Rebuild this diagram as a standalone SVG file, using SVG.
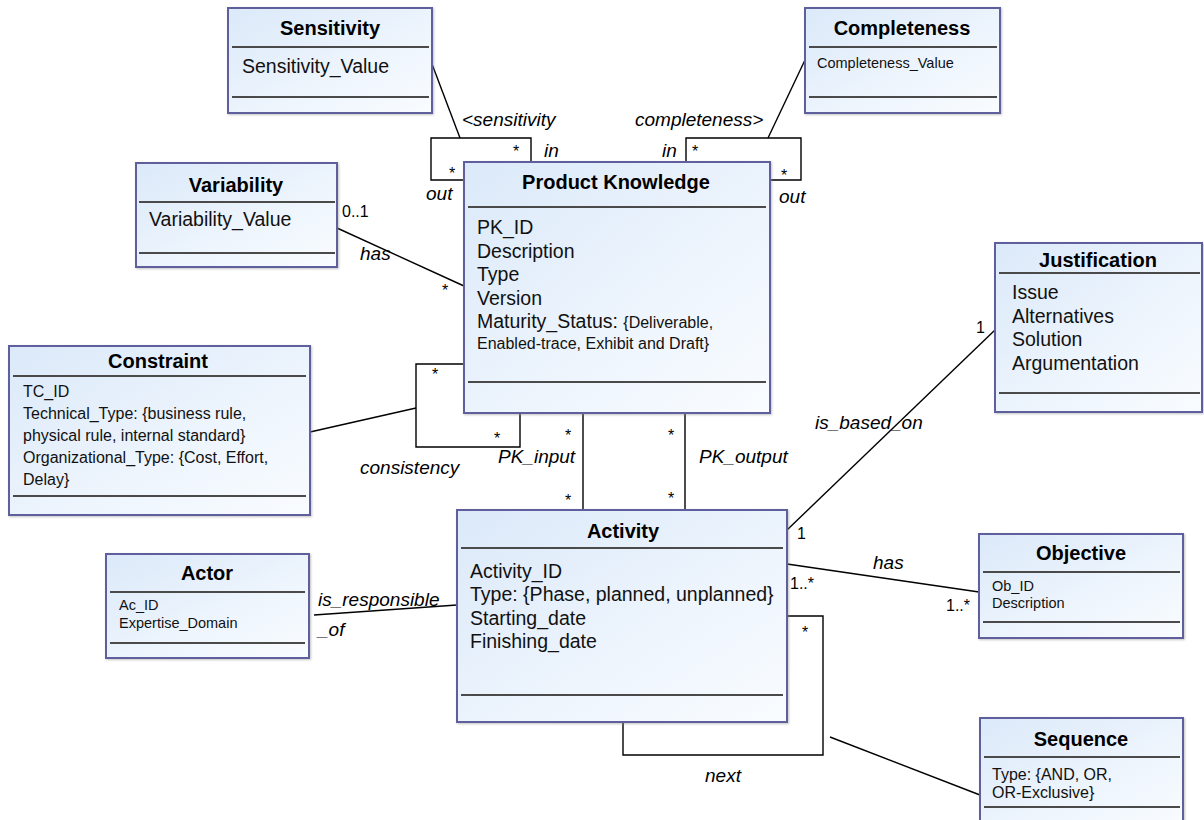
<svg xmlns="http://www.w3.org/2000/svg" width="1204" height="820" viewBox="0 0 1204 820">
  <style>
    .box { fill: url(#boxFill); stroke: #5f5f9e; stroke-width: 2; filter: url(#shadow); }
    .sep { stroke: #4a4a4a; stroke-width: 2.2; }
    .title { font-family: "Liberation Sans", Arial, sans-serif; font-weight: bold; font-size: 20px; fill: #000; text-anchor: middle; }
    .attr { font-family: "Liberation Sans", Arial, sans-serif; font-size: 19.5px; fill: #111; }
    .attr-s { font-family: "Liberation Sans", Arial, sans-serif; font-size: 14.5px; fill: #111; }
    .attr-m { font-family: "Liberation Sans", Arial, sans-serif; font-size: 16px; fill: #111; }
    .conn { fill: none; stroke: #000; stroke-width: 1.4; }
    .lbl { font-family: "Liberation Sans", Arial, sans-serif; font-style: italic; font-size: 19px; fill: #000; }
    .mult { font-family: "Liberation Sans", Arial, sans-serif; font-size: 16px; fill: #000; }
  </style>
  <defs>
    <linearGradient id="boxFill" x1="0" y1="0" x2="1" y2="1">
      <stop offset="0" stop-color="#dbe9f9"/>
      <stop offset="0.6" stop-color="#eef5fd"/>
      <stop offset="1" stop-color="#f9fcff"/>
    </linearGradient>
    <filter id="shadow" x="-5%" y="-5%" width="110%" height="110%">
      <feDropShadow dx="1" dy="1" stdDeviation="1" flood-color="#888" flood-opacity="0.5"/>
    </filter>
  </defs>
  <rect width="1204" height="820" fill="#fff"/>

  <!-- associations -->
  <g id="connectors">
    <!-- sensitivity self-association -->
    <polyline class="conn" points="464,180 431,180 431,138 531,138 531,162"/>
    <line class="conn" x1="432" y1="64" x2="460" y2="138"/>
    <!-- completeness self-association -->
    <polyline class="conn" points="686,162 686,138 801,138 801,180 768,180"/>
    <line class="conn" x1="805" y1="60" x2="768" y2="138"/>
    <!-- variability -->
    <line class="conn" x1="337" y1="228" x2="464" y2="286"/>
    <!-- consistency self-association -->
    <polyline class="conn" points="464,364 416,364 416,447 520,447 520,413"/>
    <line class="conn" x1="310" y1="432" x2="416" y2="408"/>
    <!-- PK input / output -->
    <line class="conn" x1="583" y1="413" x2="583" y2="510"/>
    <line class="conn" x1="685" y1="413" x2="685" y2="510"/>
    <!-- justification -->
    <line class="conn" x1="787" y1="530" x2="995" y2="330"/>
    <!-- objective -->
    <line class="conn" x1="787" y1="564" x2="979" y2="592"/>
    <!-- actor -->
    <line class="conn" x1="314" y1="615" x2="457" y2="605"/>
    <!-- next self-association -->
    <polyline class="conn" points="787,616 823,616 823,755 623,755 623,722"/>
    <line class="conn" x1="830" y1="737" x2="980" y2="795"/>

    <!-- labels and multiplicities -->
    <text class="lbl" x="462" y="126">&lt;sensitivity</text>
    <text class="mult" x="513" y="157">*</text>
    <text class="lbl" x="544" y="157">in</text>
    <text class="mult" x="449" y="179">*</text>
    <text class="lbl" x="426" y="200">out</text>

    <text class="lbl" x="635" y="126">completeness&gt;</text>
    <text class="lbl" x="662" y="157">in</text>
    <text class="mult" x="692" y="157">*</text>
    <text class="mult" x="781" y="181">*</text>
    <text class="lbl" x="779" y="203">out</text>

    <text class="mult" x="342" y="217">0..1</text>
    <text class="lbl" x="360" y="260">has</text>
    <text class="mult" x="442" y="296">*</text>

    <text class="mult" x="432" y="380">*</text>
    <text class="mult" x="494" y="444">*</text>
    <text class="lbl" x="360" y="474">consistency</text>

    <text class="mult" x="565" y="441">*</text>
    <text class="mult" x="565" y="506">*</text>
    <text class="lbl" x="498" y="463">PK_input</text>
    <text class="mult" x="668" y="441">*</text>
    <text class="mult" x="668" y="504">*</text>
    <text class="lbl" x="699" y="463">PK_output</text>

    <text class="lbl" x="815" y="429">is_based_on</text>
    <text class="mult" x="976" y="333">1</text>
    <text class="mult" x="797" y="539">1</text>

    <text class="lbl" x="873" y="569">has</text>
    <text class="mult" x="790" y="589">1..*</text>
    <text class="mult" x="946" y="611">1..*</text>

    <text class="lbl" x="318" y="606">is_responsible</text>
    <text class="lbl" x="318" y="636">_of</text>

    <text class="mult" x="802" y="638">*</text>
    <text class="mult" x="586" y="723">*</text>
    <text class="lbl" x="705" y="782">next</text>
  </g>

  <g id="sensitivity">
    <rect class="box" x="228" y="8" width="204" height="105"/>
    <text class="title" x="330" y="35">Sensitivity</text>
    <line class="sep" x1="232" y1="47" x2="429" y2="47"/>
    <text class="attr" x="242" y="73">Sensitivity_Value</text>
    <line class="sep" x1="232" y1="97" x2="429" y2="97"/>
  </g>

  <g id="completeness">
    <rect class="box" x="805" y="8" width="195" height="105"/>
    <text class="title" x="902" y="35">Completeness</text>
    <line class="sep" x1="809" y1="47" x2="997" y2="47"/>
    <text class="attr-s" x="817" y="68">Completeness_Value</text>
    <line class="sep" x1="809" y1="97" x2="997" y2="97"/>
  </g>

  <g id="variability">
    <rect class="box" x="136" y="163" width="201" height="104"/>
    <text class="title" x="236" y="192">Variability</text>
    <line class="sep" x1="139" y1="202" x2="335" y2="202"/>
    <text class="attr" x="149" y="226">Variability_Value</text>
    <line class="sep" x1="139" y1="253" x2="335" y2="253"/>
  </g>

  <g id="product-knowledge">
    <rect class="box" x="464" y="162" width="306" height="251"/>
    <text class="title" x="616" y="189">Product Knowledge</text>
    <line class="sep" x1="468" y1="207" x2="766" y2="207"/>
    <text class="attr" x="477" y="234">PK_ID</text>
    <text class="attr" x="477" y="258">Description</text>
    <text class="attr" x="477" y="281">Type</text>
    <text class="attr" x="477" y="305">Version</text>
    <text class="attr" x="477" y="328">Maturity_Status: <tspan style="font-size:16px">{Deliverable,</tspan></text>
    <text class="attr-m" x="477" y="349">Enabled-trace, Exhibit and Draft}</text>
    <line class="sep" x1="468" y1="382" x2="766" y2="382"/>
  </g>

  <g id="constraint">
    <rect class="box" x="9" y="346" width="301" height="169"/>
    <text class="title" x="158" y="368">Constraint</text>
    <line class="sep" x1="13" y1="376" x2="306" y2="376"/>
    <text class="attr-m" x="23" y="397">TC_ID</text>
    <text class="attr-m" x="23" y="419">Technical_Type: {business rule,</text>
    <text class="attr-m" x="23" y="441">physical rule, internal standard}</text>
    <text class="attr-m" x="23" y="463">Organizational_Type: {Cost, Effort,</text>
    <text class="attr-m" x="23" y="485">Delay}</text>
    <line class="sep" x1="13" y1="496" x2="306" y2="496"/>
  </g>

  <g id="justification">
    <rect class="box" x="995" y="243" width="207" height="169"/>
    <text class="title" x="1098" y="267">Justification</text>
    <line class="sep" x1="999" y1="273" x2="1200" y2="273"/>
    <text class="attr" x="1012" y="299">Issue</text>
    <text class="attr" x="1012" y="323">Alternatives</text>
    <text class="attr" x="1012" y="346">Solution</text>
    <text class="attr" x="1012" y="370">Argumentation</text>
    <line class="sep" x1="999" y1="393" x2="1200" y2="393"/>
  </g>

  <g id="activity">
    <rect class="box" x="457" y="510" width="330" height="212"/>
    <text class="title" x="623" y="538">Activity</text>
    <line class="sep" x1="461" y1="548" x2="783" y2="548"/>
    <text class="attr" x="470" y="578">Activity_ID</text>
    <text class="attr" x="470" y="601">Type: {Phase, planned, unplanned}</text>
    <text class="attr" x="470" y="625">Starting_date</text>
    <text class="attr" x="470" y="648">Finishing_date</text>
    <line class="sep" x1="461" y1="695" x2="783" y2="695"/>
  </g>

  <g id="objective">
    <rect class="box" x="979" y="534" width="204" height="104"/>
    <text class="title" x="1081" y="560">Objective</text>
    <line class="sep" x1="983" y1="572" x2="1180" y2="572"/>
    <text class="attr-s" x="992" y="591">Ob_ID</text>
    <text class="attr-s" x="992" y="608">Description</text>
    <line class="sep" x1="983" y1="622" x2="1180" y2="622"/>
  </g>

  <g id="actor">
    <rect class="box" x="106" y="554" width="203" height="104"/>
    <text class="title" x="207" y="580">Actor</text>
    <line class="sep" x1="110" y1="592" x2="305" y2="592"/>
    <text class="attr-s" x="119" y="610">Ac_ID</text>
    <text class="attr-s" x="119" y="628">Expertise_Domain</text>
    <line class="sep" x1="110" y1="643" x2="305" y2="643"/>
  </g>

  <g id="sequence">
    <rect class="box" x="980" y="718" width="203" height="110"/>
    <text class="title" x="1081" y="746">Sequence</text>
    <line class="sep" x1="984" y1="757" x2="1180" y2="757"/>
    <text class="attr-m" x="992" y="780">Type: {AND, OR,</text>
    <text class="attr-m" x="992" y="798">OR-Exclusive}</text>
    <line class="sep" x1="984" y1="807" x2="1180" y2="807"/>
  </g>
</svg>
